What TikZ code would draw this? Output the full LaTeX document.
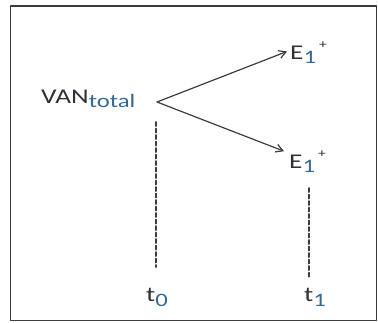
\documentclass[tikz,border=0pt]{standalone}
\usepackage{fontspec}
\setmainfont{Carlito}[FakeStretch=1.3]
\usetikzlibrary{arrows.meta}

\definecolor{textgray}{RGB}{45,50,56}
\definecolor{subblue}{RGB}{50,105,150}
\definecolor{linegray}{RGB}{60,60,62}

\newcommand{\lowsub}[1]{\raisebox{-4.5pt}{\fontsize{19}{19}\selectfont\color{subblue}#1}}
\newcommand{\highsup}[1]{\hspace{3pt}\raisebox{11pt}{\fontsize{12}{12}\selectfont #1}}

\begin{document}
\begin{tikzpicture}[
    x=1pt,
    y=-1pt,
    >={Straight Barb[length=7pt,width=8pt]},
    line cap=round,
    line join=round,
    lbl/.style={inner sep=0pt, text=textgray, font=\fontsize{21}{21}\selectfont},
    branch/.style={->, line width=1.2pt, draw=linegray},
    timeline/.style={line width=2pt, draw=linegray, dash pattern=on 4pt off 2.5pt}
]

% -----------------------
% Frame
% -----------------------
\useasboundingbox (0,0) rectangle (378,322);
\draw[line width=1.5pt, draw=linegray] (10.5,6) rectangle (376.5,320.5);

% -----------------------
% Labels
% -----------------------
\node[lbl, anchor=base west] (van) at (41,103) {VAN\lowsub{total}};
\node[lbl, anchor=base west] (eup) at (290,59) {E\lowsub{1}\highsup{+}};
\node[lbl, anchor=base west] (edown) at (289,168) {E\lowsub{1}\highsup{+}};
\node[lbl, anchor=base west] (tzero) at (146,301.5) {t\lowsub{0}};
\node[lbl, anchor=base west] (tone) at (304,301.5) {t\lowsub{1}};

% -----------------------
% Coordinates
% -----------------------
\coordinate (split) at (157,102);
\coordinate (tzerotop) at (156,122);
\coordinate (tzerobot) at (156,267);
\coordinate (tonetop) at (309,188);
\coordinate (tonebot) at (309,277);

% -----------------------
% Branches
% -----------------------
\draw[branch] (split) -- ([shift={(-3,-1)}]eup.west);
\draw[branch] (split) -- ([shift={(-5,1)}]edown.north west);

% -----------------------
% Time lines
% -----------------------
\draw[timeline] (tzerotop) -- (tzerobot);
\draw[timeline] (tonetop) -- (tonebot);

\end{tikzpicture}
\end{document}
